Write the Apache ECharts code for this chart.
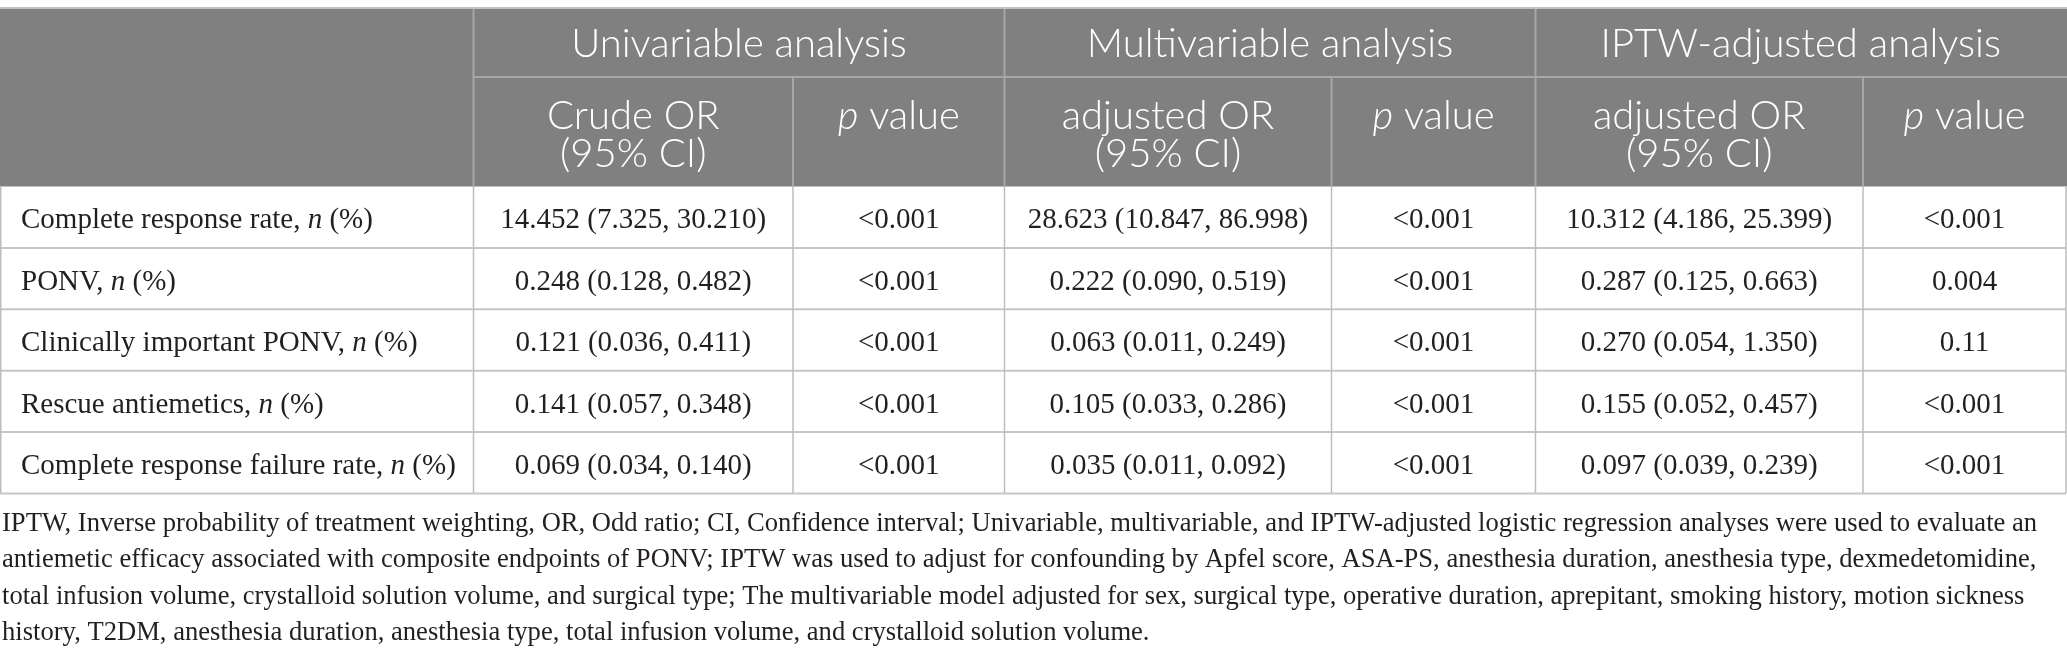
<!DOCTYPE html>
<html>
<head>
<meta charset="utf-8">
<script src="https://cdn.jsdelivr.net/npm/echarts@6/dist/echarts.min.js"></script>
<style>
  html, body { margin: 0; padding: 0; background: #ffffff; }
  #chart { width: 2067px; height: 663px; }
</style>
</head>
<body>
<div id="chart"></div>
<script>
// ---------------- data ----------------
const outcomes = [
  'Complete response rate, n (%)',
  'PONV, n (%)',
  'Clinically important PONV, n (%)',
  'Rescue antiemetics, n (%)',
  'Complete response failure rate, n (%)'
];
const crudeOR = [
  '14.452 (7.325, 30.210)',
  '0.248 (0.128, 0.482)',
  '0.121 (0.036, 0.411)',
  '0.141 (0.057, 0.348)',
  '0.069 (0.034, 0.140)'
];
const crudeP = ['<0.001', '<0.001', '<0.001', '<0.001', '<0.001'];
const multiOR = [
  '28.623 (10.847, 86.998)',
  '0.222 (0.090, 0.519)',
  '0.063 (0.011, 0.249)',
  '0.105 (0.033, 0.286)',
  '0.035 (0.011, 0.092)'
];
const multiP = ['<0.001', '<0.001', '<0.001', '<0.001', '<0.001'];
const iptwOR = [
  '10.312 (4.186, 25.399)',
  '0.287 (0.125, 0.663)',
  '0.270 (0.054, 1.350)',
  '0.155 (0.052, 0.457)',
  '0.097 (0.039, 0.239)'
];
const iptwP = ['<0.001', '0.004', '0.11', '<0.001', '<0.001'];

const groupHeaders = ['Univariable analysis', 'Multivariable analysis', 'IPTW-adjusted analysis'];
const subHeaders = [
  ['Crude OR', '(95% CI)'],
  ['{i|p} value'],
  ['adjusted OR', '(95% CI)'],
  ['{i|p} value'],
  ['adjusted OR', '(95% CI)'],
  ['{i|p} value']
];
const footnoteLines = [
  'IPTW, Inverse probability of treatment weighting, OR, Odd ratio; CI, Confidence interval; Univariable, multivariable, and IPTW-adjusted logistic regression analyses were used to evaluate an',
  'antiemetic efficacy associated with composite endpoints of PONV; IPTW was used to adjust for confounding by Apfel score, ASA-PS, anesthesia duration, anesthesia type, dexmedetomidine,',
  'total infusion volume, crystalloid solution volume, and surgical type; The multivariable model adjusted for sex, surgical type, operative duration, aprepitant, smoking history, motion sickness',
  'history, T2DM, anesthesia duration, anesthesia type, total infusion volume, and crystalloid solution volume.'
];

// ---------------- layout ----------------
const W = 2067, H = 663;
const COL_EDGES = [0, 473.5, 793, 1004.5, 1331.5, 1535.5, 1863, 2066];
const HEAD_TOP = 9, HEAD_SPLIT = 77, BODY_TOP = 186.5, BODY_BOTTOM = 493.5;
const HEAD_BG = '#7f807f';
const HEAD_LINE = '#a6a7a6';
const BODY_LINE = '#c6c6c6';
const TEXT_COLOR = '#231f20';
const SERIF = '"Liberation Serif", "Times New Roman", serif';
const SANS = 'Lato, "Open Sans", "Noto Sans", sans-serif';
const BODY_SIZE = 29;
const FOOT_SIZE = 26.6;
const HEAD_SIZE = 40;

const columns = [outcomes, crudeOR, crudeP, multiOR, multiP, iptwOR, iptwP];

const cellData = [];
for (let r = 0; r < outcomes.length; r++) {
  for (let c = 0; c < columns.length; c++) cellData.push([c, r]);
}

function labelRich(s) {
  const k = s.lastIndexOf(', n (%)');
  return '{t|' + s.slice(0, k + 2) + '}{i|n}{t| (%)}';
}

function renderCell(params, api) {
  const c = api.value(0), r = api.value(1);
  const pL = api.coord([COL_EDGES[c], r]);
  const pR = api.coord([COL_EDGES[c + 1], r]);
  const h = api.size([0, 1])[1];
  const yTop = pL[1] - h / 2, yBot = pL[1] + h / 2;
  const ty = pL[1] + 3.5;
  const children = [];
  children.push({ type: 'line', shape: { x1: pL[0], y1: yBot, x2: pR[0], y2: yBot },
    style: { stroke: BODY_LINE, lineWidth: 2 } });
  children.push({ type: 'line', shape: { x1: pR[0], y1: yTop, x2: pR[0], y2: yBot },
    style: { stroke: '#bdbdbd', lineWidth: 1.5 } });
  if (c === 0) {
    children.push({ type: 'line', shape: { x1: pL[0] + 0.75, y1: yTop, x2: pL[0] + 0.75, y2: yBot },
      style: { stroke: '#bdbdbd', lineWidth: 1.5 } });
    children.push({ type: 'text', style: {
      text: labelRich(columns[0][r]), x: pL[0] + 21, y: ty,
      align: 'left', verticalAlign: 'middle',
      rich: {
        t: { fontFamily: SERIF, fontSize: BODY_SIZE, fill: TEXT_COLOR },
        i: { fontFamily: SERIF, fontSize: BODY_SIZE, fontStyle: 'italic', fill: TEXT_COLOR }
      }
    } });
  } else {
    children.push({ type: 'text', style: {
      text: columns[c][r], x: (pL[0] + pR[0]) / 2, y: ty,
      align: 'center', verticalAlign: 'middle',
      fontFamily: SERIF, fontSize: BODY_SIZE, fill: TEXT_COLOR
    } });
  }
  return { type: 'group', children };
}

// ---------------- header + footnote graphics ----------------
const graphics = [];
graphics.push({ type: 'line', shape: { x1: 0, y1: HEAD_TOP - 1, x2: W, y2: HEAD_TOP - 1 },
  style: { stroke: '#c2c2c2', lineWidth: 2 } });
graphics.push({ type: 'rect', shape: { x: 0, y: HEAD_TOP, width: W, height: BODY_TOP - HEAD_TOP },
  style: { fill: HEAD_BG } });
graphics.push({ type: 'line', shape: { x1: COL_EDGES[1], y1: HEAD_SPLIT, x2: W, y2: HEAD_SPLIT },
  style: { stroke: HEAD_LINE, lineWidth: 2 } });
for (let i = 1; i < COL_EDGES.length - 1; i++) {
  const full = (i === 1 || i === 3 || i === 5);
  graphics.push({ type: 'line', shape: { x1: COL_EDGES[i], y1: full ? HEAD_TOP : HEAD_SPLIT, x2: COL_EDGES[i], y2: BODY_TOP },
    style: { stroke: HEAD_LINE, lineWidth: 2 } });
}
for (let g = 0; g < groupHeaders.length; g++) {
  const x0 = COL_EDGES[1 + 2 * g], x1 = COL_EDGES[3 + 2 * g];
  graphics.push({ type: 'text', style: {
    text: groupHeaders[g], x: (x0 + x1) / 2, y: 44, align: 'center', verticalAlign: 'middle',
    fontFamily: SANS, fontSize: HEAD_SIZE, fontWeight: 300, fill: '#ffffff'
  } });
}
for (let s = 0; s < subHeaders.length; s++) {
  const x0 = COL_EDGES[1 + s], x1 = COL_EDGES[2 + s];
  subHeaders[s].forEach((line, li) => {
    graphics.push({ type: 'text', style: {
      text: line, x: (x0 + x1) / 2, y: 116 + li * 38, align: 'center', verticalAlign: 'middle',
      fontFamily: SANS, fontSize: HEAD_SIZE, fontWeight: 300, fill: '#ffffff',
      rich: { i: { fontFamily: SANS, fontSize: HEAD_SIZE, fontWeight: 300, fontStyle: 'italic', fill: '#ffffff' } }
    } });
  });
}
footnoteLines.forEach((line, i) => {
  graphics.push({ type: 'text', style: {
    text: line, x: 2, y: 524 + i * 36.5, align: 'left', verticalAlign: 'middle',
    fontFamily: SERIF, fontSize: FOOT_SIZE, fill: TEXT_COLOR
  } });
});

const chart = echarts.init(document.getElementById('chart'), null, { renderer: 'canvas' });
chart.setOption({
  backgroundColor: '#ffffff',
  animation: false,
  grid: { left: 0, right: 0, top: BODY_TOP, bottom: H - BODY_BOTTOM },
  xAxis: { type: 'value', min: 0, max: W, show: false },
  yAxis: { type: 'category', data: outcomes, inverse: true, show: false },
  series: [{
    type: 'custom',
    renderItem: renderCell,
    data: cellData,
    encode: { x: 0, y: 1 },
    clip: false
  }],
  graphic: graphics
});
</script>
</body>
</html>
